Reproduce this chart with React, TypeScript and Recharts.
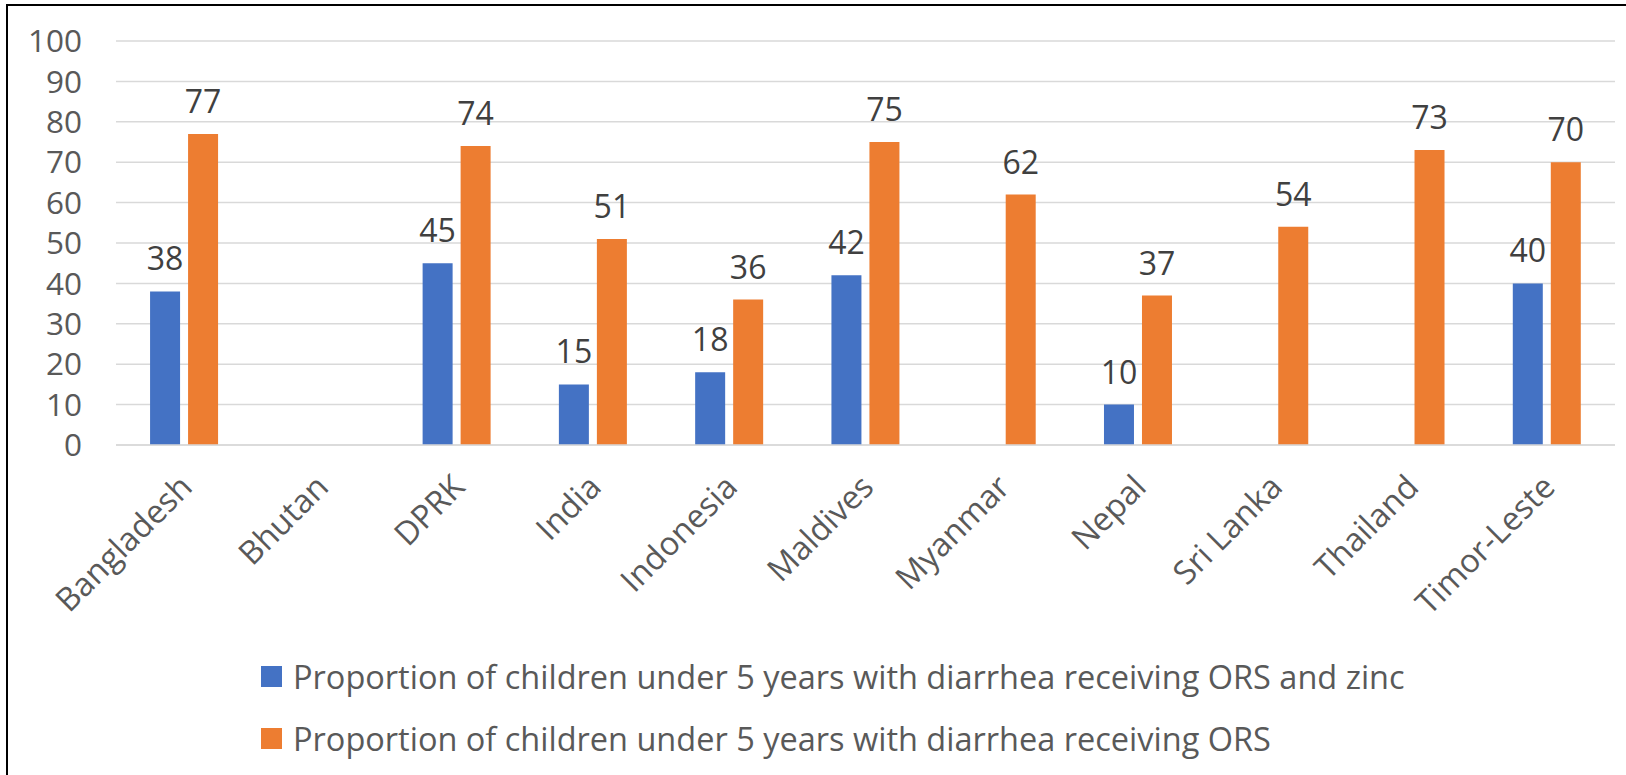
import { BarChart, Bar, XAxis, YAxis, CartesianGrid, LabelList } from "recharts";

const countries = [
  "Bangladesh", "Bhutan", "DPRK", "India", "Indonesia", "Maldives",
  "Myanmar", "Nepal", "Sri Lanka", "Thailand", "Timor-Leste",
];
const orsZinc = [38, null, 45, 15, 18, 42, null, 10, null, null, 40];
const orsOnly = [77, null, 74, 51, 36, 75, 62, 37, 54, 73, 70];
const yTicks = [0, 10, 20, 30, 40, 50, 60, 70, 80, 90, 100];

const seriesNames = [
  "Proportion of children under 5 years with diarrhea receiving ORS and zinc",
  "Proportion of children under 5 years with diarrhea receiving ORS",
];
const seriesColors = ["#4472C4", "#ED7D31"];

const FONT = "'Open Sans', 'Liberation Sans', sans-serif";

const data = countries.map((name, i) => ({
  name,
  orsZinc: orsZinc[i],
  orsOnly: orsOnly[i],
}));

function CountryTick({ x, y, payload }: any) {
  const ax = x + 10;
  const ay = y + 36;
  return (
    <text
      x={ax}
      y={ay}
      transform={`rotate(-45 ${ax} ${ay})`}
      textAnchor="end"
      fontSize={32.5}
      fontFamily={FONT}
      fill="#595959"
    >
      {payload.value}
    </text>
  );
}

function ValueLabel({ x, y, width, value }: any) {
  if (value == null) return null;
  return (
    <text
      x={x + width / 2}
      y={y - 21}
      textAnchor="middle"
      fontSize={32}
      fontFamily={FONT}
      fill="#404040"
    >
      {value}
    </text>
  );
}

export default function App() {
  return (
    <div style={{ position: "absolute", left: 0, top: 0, width: 1626, height: 775, background: "#fff", overflow: "hidden" }}>
      <div
        style={{
          position: "absolute", left: 6, top: 4, right: 0, bottom: 0,
          borderTop: "2px solid #000", borderLeft: "2px solid #000",
        }}
      />
      <div style={{ position: "absolute", left: 0, top: 0 }}>
        <BarChart
          width={1626}
          height={640}
          data={data}
          margin={{ top: 41, right: 11, left: 0, bottom: 0 }}
          barCategoryGap="25%"
          barGap={8}
        >
          <CartesianGrid vertical={false} stroke="#d9d9d9" strokeWidth={1.5} />
          <XAxis
            dataKey="name"
            interval={0}
            height={195}
            tickLine={false}
            axisLine={{ stroke: "#d9d9d9", strokeWidth: 1.5 }}
            tick={<CountryTick />}
          />
          <YAxis
            width={116}
            domain={[0, 100]}
            ticks={yTicks}
            interval={0}
            tickLine={false}
            axisLine={false}
            tickMargin={28}
            tick={{ fontSize: 31.5, fontFamily: FONT, fill: "#595959" }}
          />
          <Bar dataKey="orsZinc" fill={seriesColors[0]} isAnimationActive={false}>
            <LabelList dataKey="orsZinc" content={<ValueLabel />} />
          </Bar>
          <Bar dataKey="orsOnly" fill={seriesColors[1]} isAnimationActive={false}>
            <LabelList dataKey="orsOnly" content={<ValueLabel />} />
          </Bar>
        </BarChart>
      </div>
      {seriesNames.map((label, i) => (
        <div
          key={label}
          style={{
            position: "absolute", left: 261, top: 656 + i * 62, height: 40,
            display: "flex", alignItems: "center", whiteSpace: "nowrap",
            fontFamily: FONT, fontSize: 32.5, color: "#595959",
          }}
        >
          <span style={{ display: "inline-block", width: 21, height: 21, background: seriesColors[i], marginRight: 11 }} />
          {label}
        </div>
      ))}
    </div>
  );
}
